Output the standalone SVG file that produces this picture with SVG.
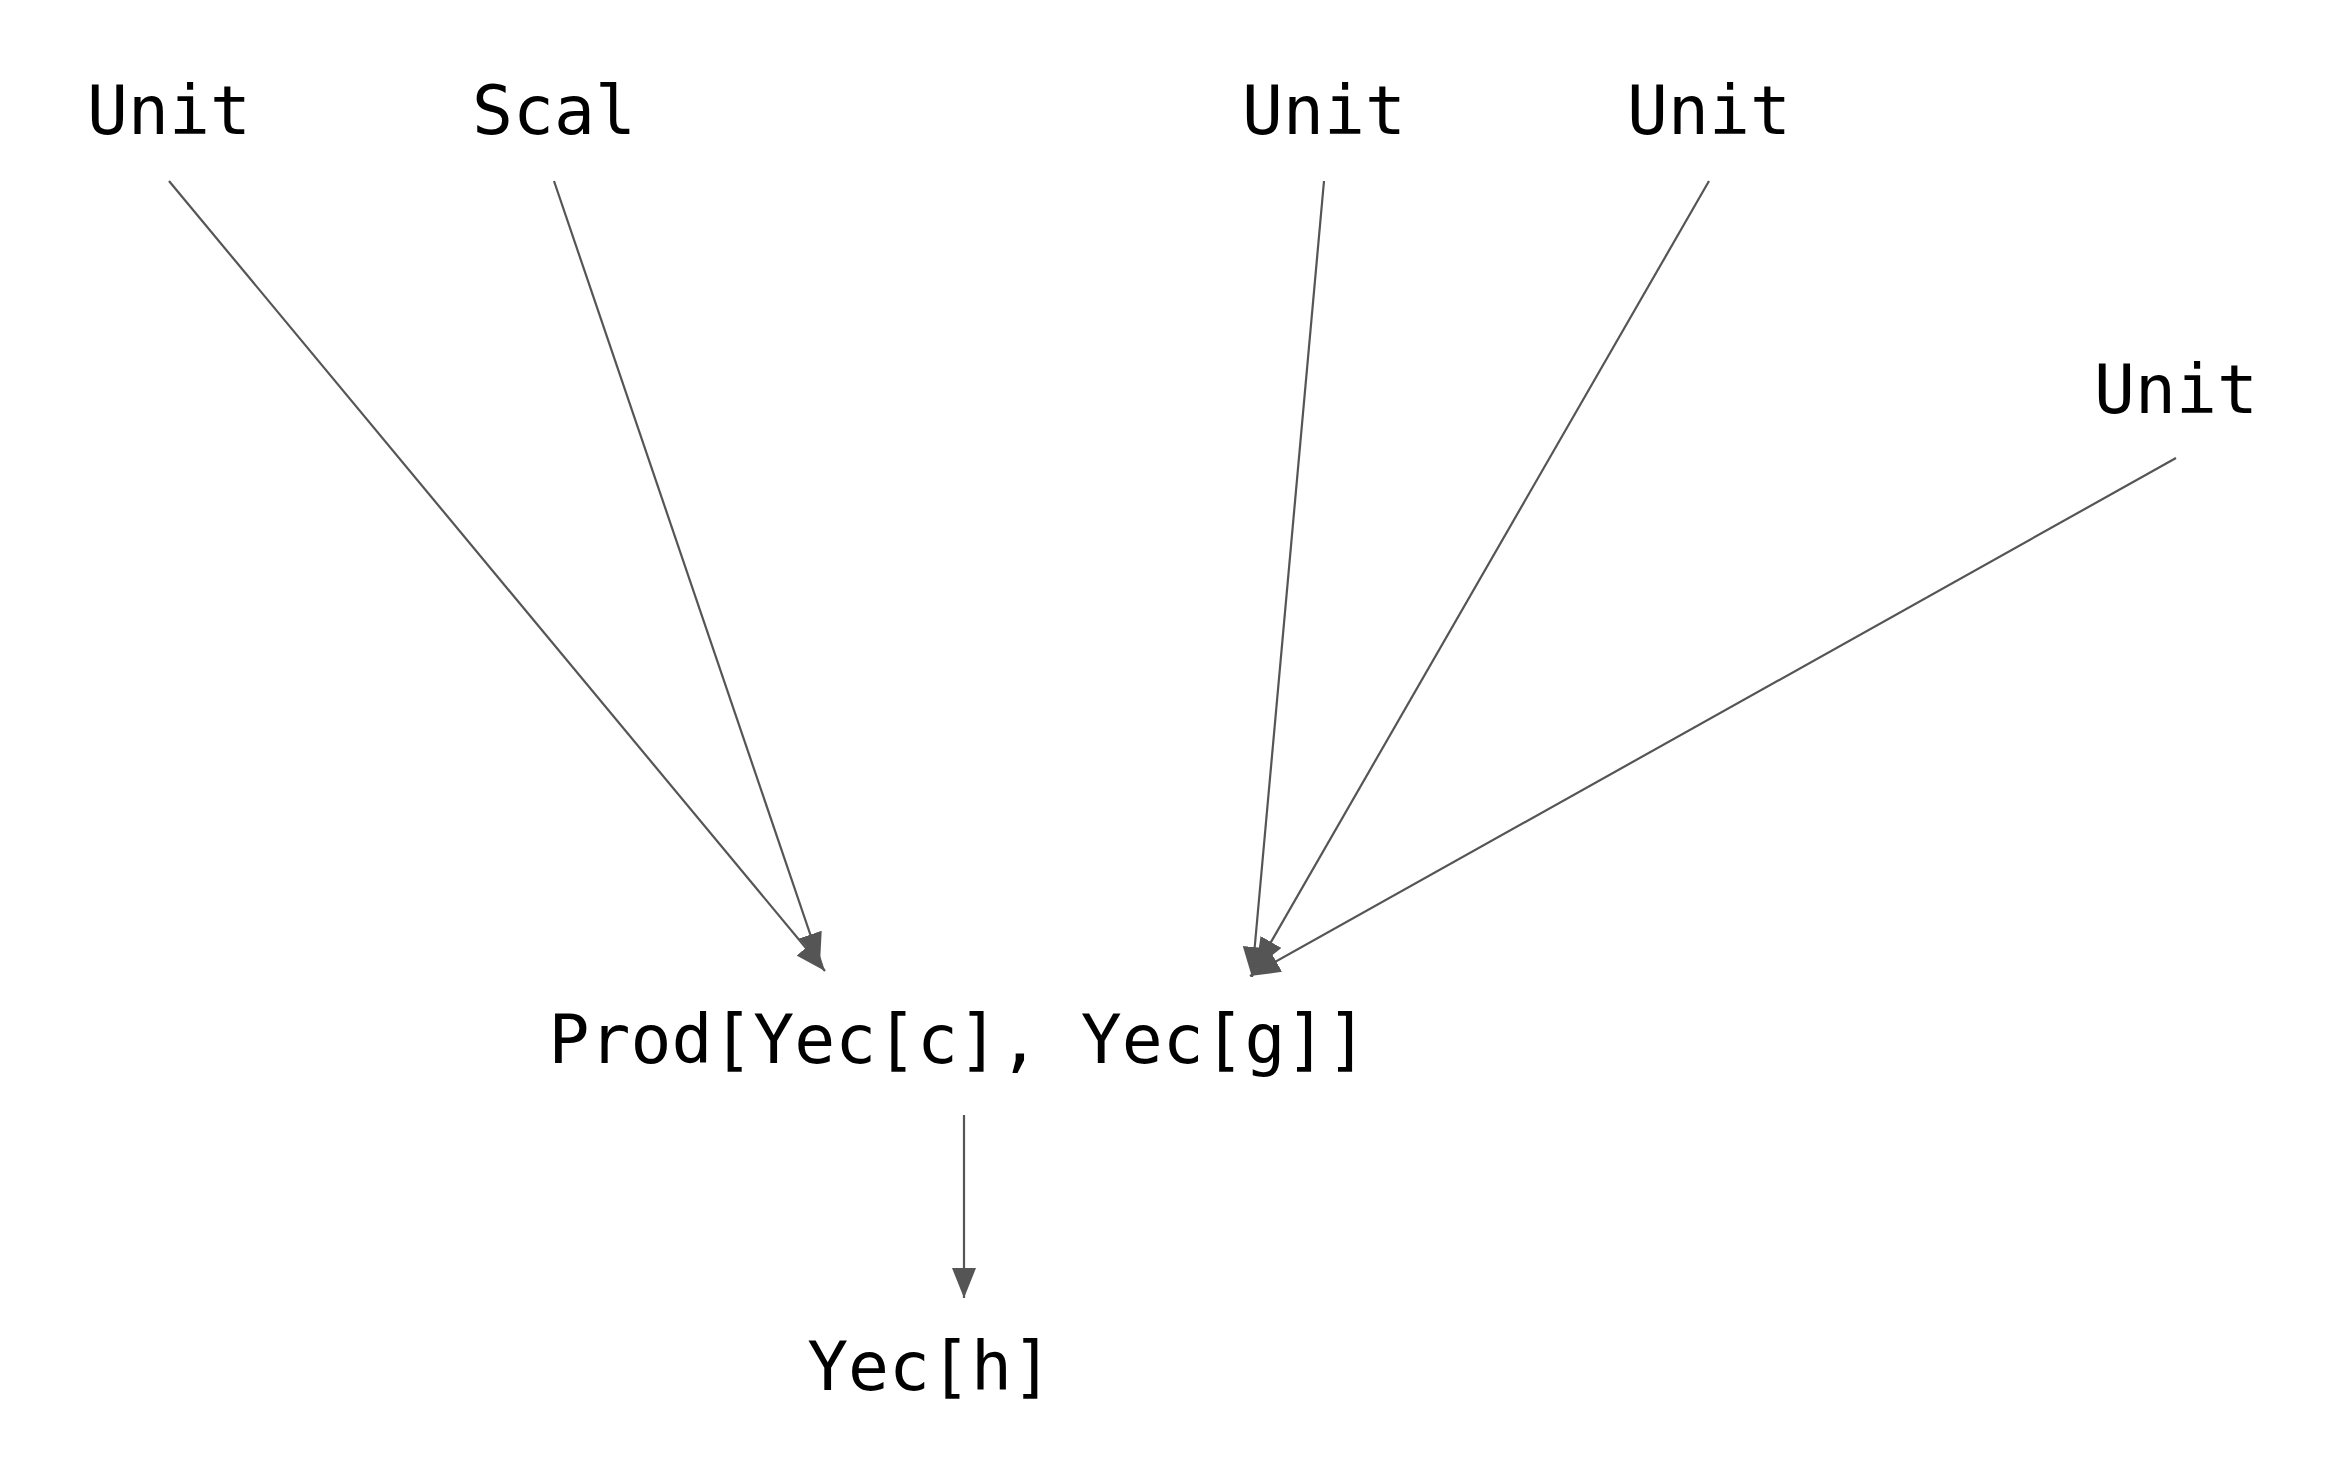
<svg xmlns="http://www.w3.org/2000/svg" width="2328" height="1474" viewBox="0 0 2328 1474">
<style>
text{font-family:"DejaVu Sans Mono","Liberation Mono",monospace;font-size:68px;fill:#000;text-anchor:middle}
.e{stroke:#555;stroke-width:2.2;fill:none;marker-end:url(#a)}
</style>
<defs><marker id="a" markerUnits="userSpaceOnUse" markerWidth="32" markerHeight="24" refX="30" refY="12" orient="auto"><path d="M0,0 L30,12 L0,24 Z" fill="#555"/></marker></defs>
<rect width="2328" height="1474" fill="#fff"/>
<g id="connectors">
<line class="e" x1="169" y1="181" x2="825" y2="971"/>
<line class="e" x1="554" y1="181" x2="820" y2="963"/>
<line class="e" x1="1324" y1="181" x2="1252" y2="977"/>
<line class="e" x1="1709" y1="181" x2="1256" y2="968"/>
<line class="e" x1="2176" y1="458" x2="1250" y2="976"/>
<line class="e" x1="964" y1="1115" x2="964" y2="1298"/>
</g>
<g id="n1"><text x="169" y="134">Unit</text></g>
<g id="n2"><text x="554" y="134">Scal</text></g>
<g id="n3"><text x="1324" y="134">Unit</text></g>
<g id="n4"><text x="1709" y="134">Unit</text></g>
<g id="n5"><text x="2176" y="413">Unit</text></g>
<g id="n6"><text x="958" y="1063">Prod[Yec[c], Yec[g]]</text></g>
<g id="n7"><text x="930" y="1390">Yec[h]</text></g>
</svg>
